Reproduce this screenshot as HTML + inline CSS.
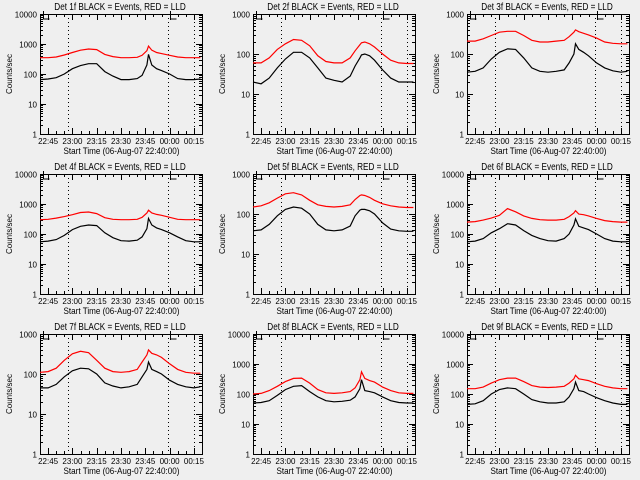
<!DOCTYPE html>
<html><head><meta charset="utf-8"><style>
html,body{margin:0;padding:0;background:#efefef;}
svg{display:block;font-family:"Liberation Sans",sans-serif;}
</style></head><body>
<svg id="c" width="640" height="480" viewBox="0 0 640 480"></svg>
<script>
const times=[0,5,10,15,20,25,30,35,40,45,50,55,60,63,66,67,69,72,75,80,85,90,95,99];
const detNames=["1f","2f","3f","4f","5f","6f","7f","8f","9f"];
const yMaxExp=[4,3,3,4,3,4,3,4,4];
const black1=[65,68,75,100,150,190,220,220,120,85,65,65,70,90,200,450,200,150,130,100,70,65,65,68];
const red1=[350,350,370,430,520,620,680,650,450,380,350,350,360,420,600,850,620,520,480,420,370,350,350,350];
const black2=[20,18,25,45,75,110,110,80,45,25,22,20,28,50,80,95,100,90,70,40,25,20,20,20];
const red2=[60,60,80,130,180,230,220,160,90,65,60,60,80,120,170,190,200,180,150,100,70,60,58,58];
const black3=[35,37,45,75,110,135,130,80,45,37,35,37,40,60,100,180,130,110,90,60,45,38,35,37];
const red3=[210,210,240,290,350,370,370,290,220,200,200,210,220,270,350,400,360,330,300,250,200,185,180,180];
const black4=[55,58,65,90,140,180,200,190,110,75,60,58,62,80,150,330,200,160,140,110,80,60,55,55];
const red4=[300,310,340,380,440,520,540,480,350,310,300,300,310,360,500,620,500,450,420,360,310,300,300,300];
const black5=[38,40,55,90,130,150,140,100,55,40,38,40,50,90,125,130,130,120,100,60,42,38,37,37];
const red5=[150,160,190,250,320,340,300,220,170,155,150,155,170,230,290,300,290,260,220,180,160,150,145,145];
const black6=[55,58,70,110,150,220,200,130,90,70,60,58,70,100,200,320,180,160,140,100,70,58,55,55];
const red6=[250,260,290,340,420,700,550,400,330,300,290,290,310,380,500,600,460,440,400,330,280,260,250,250];
const black7=[45,45,55,85,120,140,135,100,60,50,45,48,55,85,130,200,130,115,100,70,55,48,45,48];
const red7=[110,115,140,220,320,370,340,220,140,115,110,115,130,200,300,400,330,300,260,180,130,110,105,105];
const black8=[50,52,60,90,140,180,190,120,80,60,55,57,62,80,150,300,130,120,110,80,60,52,50,50];
const red8=[100,105,130,180,260,330,340,230,140,110,105,110,120,160,300,550,330,280,250,170,130,110,105,105];
const black9=[45,47,60,100,140,160,150,100,65,55,50,50,55,80,150,250,130,120,100,75,60,50,45,45];
const red9=[150,150,170,230,300,340,340,260,190,170,165,170,180,230,320,420,320,300,280,220,180,160,150,150];
const blacks=[black1,black2,black3,black4,black5,black6,black7,black8,black9];
const reds=[red1,red2,red3,red4,red5,red6,red7,red8,red9];
const xTickLabels=["22:45","23:00","23:15","23:30","23:45","00:00","00:15"];
const xTickMins=[5,20,35,50,65,80,95];
const dottedMins=[17.3,79,95];

const NS="http://www.w3.org/2000/svg";
const svg=document.getElementById('c');
function mk(tag,attrs,parent){const e=document.createElementNS(NS,tag);for(const k in attrs)e.setAttribute(k,attrs[k]);parent.appendChild(e);return e;}

for(let p=0;p<9;p++){
  const cx=[0,213,427][p%3], cy=[0,160,320][Math.floor(p/3)];
  const X0=40+cx,X1=202+cx,Y0=14+cy,Y1=134+cy;
  const emax=yMaxExp[p];
  const xs=m=>X0+m*(X1-X0)/100;
  const ys=v=>Y1-Math.log10(v)/emax*(Y1-Y0);
  const g=mk('g',{},svg);
  
  
  const t=mk('text',{x:0,y:0,'text-anchor':'middle','font-size':'10',fill:'#000',transform:`translate(${cx+120},${cy+10}) scale(0.82,1)`},g);
  t.textContent='Det '+detNames[p]+' BLACK = Events, RED = LLD';
  
  
  const yl=mk('text',{x:0,y:0,'text-anchor':'middle','font-size':'8',fill:'#000',transform:`translate(${cx+12},${(Y0+Y1)/2}) rotate(-90)`},g);
  yl.textContent='Counts/sec';
  
  
  const xl=mk('text',{x:0,y:0,'text-anchor':'middle','font-size':'9',fill:'#000',transform:`translate(${cx+121.5},${cy+154}) scale(0.9,1)`},g);
  xl.textContent='Start Time (06-Aug-07 22:40:00)';
  
  
  const box=mk('rect',{x:X0+0.5,y:Y0+0.5,width:X1-X0,height:Y1-Y0,fill:'none',stroke:'#000','stroke-width':1},g);
  
  
  for(let e=0;e<=emax;e++){
    const y=Math.round(ys(Math.pow(10,e)))+0.5;
    mk('line',{x1:X0,x2:X0+6,y1:y,y2:y,stroke:'#000'},g);
    mk('line',{x1:X1-6,x2:X1,y1:y,y2:y,stroke:'#000'},g);
    const tl=mk('text',{x:X0-3,y:y+3,'text-anchor':'end','font-size':'8',fill:'#000'},g);
    tl.textContent=String(Math.pow(10,e));
    
    
    if(e<emax)for(let k=2;k<10;k++){
      const yy=Math.round(ys(k*Math.pow(10,e)))+0.5;
      mk('line',{x1:X0,x2:X0+3,y1:yy,y2:yy,stroke:'#000'},g);
      mk('line',{x1:X1-3,x2:X1,y1:yy,y2:yy,stroke:'#000'},g);
    }
  }
  for(let m=0;m<=100;m+=5){
    const x=Math.round(xs(m))+0.5;
    const major=(m%15===5);
    const L=major?6:3;
    mk('line',{x1:x,x2:x,y1:Y1,y2:Y1-L,stroke:'#000'},g);
    mk('line',{x1:x,x2:x,y1:Y0,y2:Y0+L,stroke:'#000'},g);
  }
  xTickMins.forEach((m,i)=>{
    const tl=mk('text',{x:xs(m),y:Y1+10,'text-anchor':'middle','font-size':'8',fill:'#000'},g);
    tl.textContent=xTickLabels[i];
    
    
  });
  dottedMins.forEach(m=>{
    const x=Math.round(xs(m))+0.5;
    const dl=mk('line',{x1:x,x2:x,y1:Y0,y2:Y1,stroke:'#000','stroke-dasharray':'1,3'},g);
    
    
  });
  [X0+3,xs(79)+2].forEach(x=>{
    const bx=Math.round(x)+0.5;
    mk('polyline',{points:`${bx},${Y0-3} ${bx},${Y0+5} ${bx+6},${Y0+5}`,fill:'none',stroke:'#000'},g);
  });
  const pts=arr=>arr.map((v,i)=>xs(times[i]).toFixed(1)+','+ys(v).toFixed(1)).join(' ');
  const rl=mk('polyline',{points:pts(reds[p]),fill:'none',stroke:'#ff0000','stroke-width':1.2},g);
  
  
  const bl=mk('polyline',{points:pts(blacks[p]),fill:'none',stroke:'#000','stroke-width':1.2},g);
  
  
}
</script>
</body></html>
